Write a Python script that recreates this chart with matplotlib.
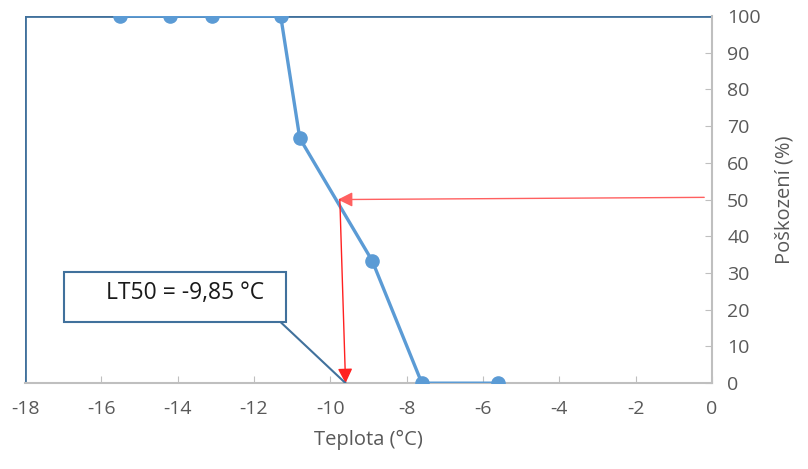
import matplotlib.pyplot as plt

plt.rcParams['font.family'] = ['Open Sans', 'DejaVu Sans']
plt.rcParams['axes.unicode_minus'] = False

# data
teplota = [-15.5, -14.2, -13.1, -11.3, -10.8, -8.9, -7.6, -5.6]
poskozeni = [100, 100, 100, 100, 66.7, 33.3, 0, 0]
frame_x = [-18, -18, 0]
frame_y = [0, 100, 100]
lt50 = -9.85
x_ticks = list(range(-18, 1, 2))
y_ticks = list(range(0, 101, 10))

blue = '#5B9BD5'
dark = '#41719C'
grey = '#595959'
axis_grey = '#BFBFBF'

fig = plt.figure(figsize=(8.08, 4.69), dpi=100)
ax = fig.add_axes([0.031, 0.183, 0.850, 0.783])

ax.plot(frame_x, frame_y, color=dark, lw=2, zorder=2)
ax.plot(teplota, poskozeni, color=blue, lw=2.4, marker='o', markersize=9.5, zorder=3)

# red arrows to LT50
ax.annotate('', xy=(lt50 + 0.05, 50), xytext=(-0.2, 50.6),
            arrowprops=dict(arrowstyle='-|>', color='#FF6060', lw=1, mutation_scale=22,
                            shrinkA=0, shrinkB=0), zorder=4)
ax.annotate('', xy=(lt50 + 0.25, 0), xytext=(lt50 + 0.1, 50),
            arrowprops=dict(arrowstyle='-|>', color='#FF2020', lw=1, mutation_scale=22,
                            shrinkA=0, shrinkB=0), zorder=4)

# callout box with leader line
ax.plot([-11.3, lt50 + 0.25], [16.6, 0], color=dark, lw=1.5, zorder=4)
ax.add_patch(plt.Rectangle((-16.98, 16.6), 5.82, 13.6, facecolor='white',
                           edgecolor=dark, lw=1.5, zorder=4))
ax.text(-13.8, 24.5, 'LT50 = -9,85 °C', ha='center', va='center', fontsize=16.5,
        color='#1a1a1a', zorder=5)

ax.set_xlim(-18, 0)
ax.set_ylim(0, 100)
ax.set_xticks(x_ticks)
ax.set_yticks(y_ticks)
ax.yaxis.tick_right()
ax.yaxis.set_label_position('right')
ax.tick_params(direction='in', length=5, color=axis_grey, labelcolor=grey, labelsize=14)
ax.tick_params(axis='x', pad=12)
ax.tick_params(axis='y', pad=11)

for s in ['top', 'left']:
    ax.spines[s].set_visible(False)
for s in ['bottom', 'right']:
    ax.spines[s].set_color(axis_grey)
    ax.spines[s].set_linewidth(1.5)

ax.set_xlabel('Teplota (°C)', fontsize=14.5, color=grey, labelpad=9)
ax.set_ylabel('Poškození (%)', fontsize=14.5, color=grey, labelpad=10)

fig.savefig('out.png', dpi=100)
